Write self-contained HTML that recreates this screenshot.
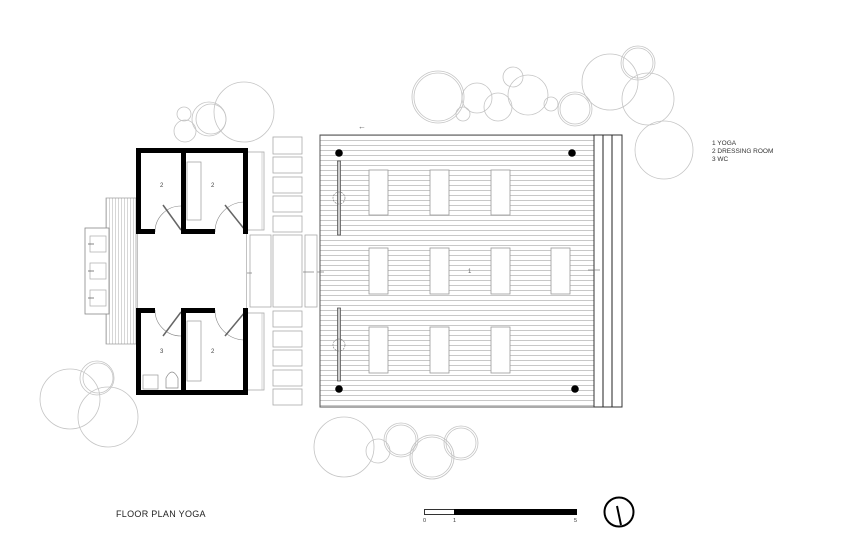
<!DOCTYPE html>
<html><head><meta charset="utf-8"><style>
html,body{margin:0;padding:0;background:#fff}
svg{display:block}
text{font-family:"Liberation Sans",sans-serif}
</style></head><body>
<svg width="849" height="557" viewBox="0 0 849 557" xmlns="http://www.w3.org/2000/svg">
<defs>
<pattern id="hl" x="0" y="135" width="10" height="5" patternUnits="userSpaceOnUse">
<rect width="10" height="5" fill="#fff"/><line x1="0" y1="0.5" x2="10" y2="0.5" stroke="#bbb" stroke-width="0.8"/>
</pattern>
<pattern id="vl" x="106" y="0" width="3" height="10" patternUnits="userSpaceOnUse">
<rect width="3" height="10" fill="#fff"/><line x1="0.5" y1="0" x2="0.5" y2="10" stroke="#bbb" stroke-width="0.6"/>
</pattern>
</defs>
<g fill="none" stroke="#c4c4c4" stroke-width="0.8">
<circle cx="438" cy="97" r="26"/><circle cx="438" cy="97" r="24"/>
<circle cx="477" cy="98" r="15"/><circle cx="463" cy="114" r="7"/>
<circle cx="498" cy="107" r="14"/><circle cx="513" cy="77" r="10"/>
<circle cx="528" cy="95" r="20"/><circle cx="551" cy="104" r="7"/>
<circle cx="575" cy="109" r="17"/><circle cx="575" cy="109" r="15"/>
<circle cx="610" cy="82" r="28"/><circle cx="638" cy="63" r="17"/><circle cx="638" cy="63" r="15"/>
<circle cx="648" cy="99" r="26"/><circle cx="664" cy="150" r="29"/>
<circle cx="184" cy="114" r="7"/><circle cx="185" cy="131" r="11"/>
<circle cx="209" cy="119" r="17"/><circle cx="211" cy="119" r="15"/><circle cx="244" cy="112" r="30"/>
<circle cx="70" cy="399" r="30"/><circle cx="97" cy="378" r="17"/><circle cx="98" cy="378" r="15"/><circle cx="108" cy="417" r="30"/>
<circle cx="344" cy="447" r="30"/><circle cx="378" cy="451" r="12"/>
<circle cx="401" cy="440" r="17"/><circle cx="401" cy="440" r="15"/>
<circle cx="432" cy="457" r="22"/><circle cx="432" cy="457" r="20"/>
<circle cx="461" cy="443" r="17"/><circle cx="461" cy="443" r="15"/>
</g>
<rect x="320" y="135" width="274" height="272" fill="url(#hl)" stroke="#555" stroke-width="1"/>
<rect x="594" y="135" width="28" height="272" fill="#fff" stroke="#333" stroke-width="1"/>
<line x1="603" y1="135" x2="603" y2="407" stroke="#222"/>
<line x1="612" y1="135" x2="612" y2="407" stroke="#222"/>
<g fill="#fff" stroke="#999" stroke-width="0.8">
<rect x="369" y="170" width="19" height="45"/><rect x="430" y="170" width="19" height="45"/><rect x="491" y="170" width="19" height="45"/>
<rect x="369" y="248" width="19" height="46"/><rect x="430" y="248" width="19" height="46"/><rect x="491" y="248" width="19" height="46"/><rect x="551" y="248" width="19" height="46"/>
<rect x="369" y="327" width="19" height="46"/><rect x="430" y="327" width="19" height="46"/><rect x="491" y="327" width="19" height="46"/>
</g>
<g fill="#000"><circle cx="339" cy="153" r="3.8"/><circle cx="572" cy="153" r="3.8"/><circle cx="339" cy="389" r="3.8"/><circle cx="575" cy="389" r="3.8"/></g>
<g fill="#ccc" stroke="#444" stroke-width="0.7">
<rect x="337.5" y="161" width="3" height="74"/><rect x="337.5" y="308" width="3" height="73"/>
</g>
<g fill="none" stroke="#777" stroke-width="0.6" stroke-dasharray="2,1">
<circle cx="339" cy="198" r="6"/><circle cx="339" cy="345" r="6"/>
</g>
<text x="468" y="273" font-size="6" fill="#666">1</text>
<text x="358" y="129" font-size="8" fill="#666">←</text>
<line x1="316" y1="272" x2="324" y2="272" stroke="#777" stroke-width="0.7"/>
<line x1="588" y1="270" x2="600" y2="270" stroke="#777" stroke-width="0.7"/>
<g fill="#fff" stroke="#aaa" stroke-width="0.8">
<rect x="273" y="137" width="29" height="17"/><rect x="273" y="157" width="29" height="16"/><rect x="273" y="177" width="29" height="16"/><rect x="273" y="196" width="29" height="16"/><rect x="273" y="216" width="29" height="16"/>
<rect x="273" y="311" width="29" height="16"/><rect x="273" y="331" width="29" height="16"/><rect x="273" y="350" width="29" height="16"/><rect x="273" y="370" width="29" height="16"/><rect x="273" y="389" width="29" height="16"/>
<rect x="250" y="235" width="21" height="72"/><rect x="273" y="235" width="29" height="72"/><rect x="305" y="235" width="12" height="72"/>
<rect x="247" y="152" width="17" height="78"/><rect x="247" y="313" width="17" height="77"/>
</g>
<line x1="262" y1="152" x2="262" y2="230" stroke="#bbb" stroke-width="0.6"/>
<line x1="262" y1="313" x2="262" y2="390" stroke="#bbb" stroke-width="0.6"/>
<line x1="241" y1="273" x2="252" y2="273" stroke="#777" stroke-width="0.7"/>
<line x1="303" y1="272" x2="314" y2="272" stroke="#777" stroke-width="0.7"/>
<rect x="106" y="198" width="30" height="146" fill="url(#vl)" stroke="#999" stroke-width="0.7"/>
<rect x="85" y="228" width="24" height="86" fill="#fff" stroke="#888" stroke-width="0.8"/>
<g fill="#fff" stroke="#aaa" stroke-width="0.7">
<rect x="90" y="236" width="16" height="16"/><rect x="90" y="263" width="16" height="16"/><rect x="90" y="290" width="16" height="16"/>
</g>
<g stroke="#666" stroke-width="0.8"><line x1="88" y1="244" x2="94" y2="244"/><line x1="88" y1="271" x2="94" y2="271"/><line x1="88" y1="298" x2="94" y2="298"/></g>
<rect x="137" y="148" width="110" height="247" fill="#fff"/>
<line x1="137.5" y1="232" x2="137.5" y2="310" stroke="#999" stroke-width="0.6"/>
<line x1="246.5" y1="232" x2="246.5" y2="310" stroke="#999" stroke-width="0.6"/>
<g fill="#fff" stroke="#999" stroke-width="0.7">
<rect x="187" y="162" width="14" height="58"/><rect x="187" y="321" width="14" height="60"/>
<rect x="143" y="375" width="15" height="14"/>
</g>
<path d="M166 388 L166 378 Q172 366 178 378 L178 388 Z" fill="#fff" stroke="#888" stroke-width="0.7"/>
<g fill="none" stroke="#888" stroke-width="0.6">
<path d="M155 232 A26 26 0 0 1 181 206"/>
<path d="M215 232 A30 30 0 0 1 245 202"/>
<path d="M155 310 A26 26 0 0 0 181 336"/>
<path d="M215 310 A30 30 0 0 0 245 340"/>
</g>
<g stroke="#666" stroke-width="1.5">
<line x1="163" y1="205" x2="181" y2="230"/><line x1="225" y1="205" x2="245" y2="230"/>
<line x1="163" y1="336" x2="181" y2="312"/><line x1="225" y1="336" x2="245" y2="312"/>
</g>
<g fill="#000">
<rect x="136" y="148" width="112" height="5"/>
<rect x="136" y="390" width="112" height="5"/>
<rect x="136" y="148" width="5" height="86"/>
<rect x="136" y="308" width="5" height="87"/>
<rect x="243" y="148" width="5" height="86"/>
<rect x="243" y="308" width="5" height="87"/>
<rect x="181" y="148" width="5" height="86"/>
<rect x="181" y="308" width="5" height="87"/>
<rect x="136" y="229" width="19" height="5"/>
<rect x="181" y="229" width="34" height="5"/>
<rect x="136" y="308" width="19" height="5"/>
<rect x="181" y="308" width="34" height="5"/>
</g>
<g font-size="6" fill="#444">
<text x="160" y="187">2</text><text x="211" y="187">2</text>
<text x="160" y="353">3</text><text x="211" y="353">2</text>
</g>
<g font-size="6.5" fill="#333">
<text x="712" y="145">1  YOGA</text>
<text x="712" y="153">2  DRESSING ROOM</text>
<text x="712" y="161">3  WC</text>
</g>
<text x="116" y="517" font-size="9" fill="#222" letter-spacing="0.3">FLOOR PLAN YOGA</text>
<rect x="424.5" y="509.5" width="30" height="5" fill="#fff" stroke="#000" stroke-width="0.8"/>
<rect x="454" y="509" width="123" height="6" fill="#000"/>
<g font-size="5.5" fill="#333"><text x="423" y="522">0</text><text x="453" y="522">1</text><text x="574" y="522">5</text></g>
<circle cx="619" cy="512" r="14.5" fill="none" stroke="#000" stroke-width="2"/>
<line x1="617" y1="506" x2="621" y2="525" stroke="#000" stroke-width="2"/>
</svg>
</body></html>
